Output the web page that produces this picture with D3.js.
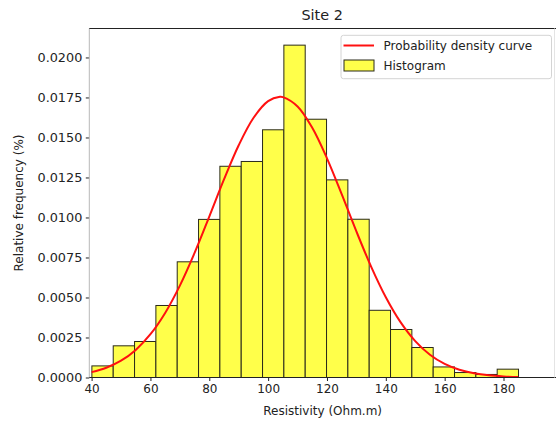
<!DOCTYPE html>
<html>
<head>
<meta charset="utf-8">
<script src="https://cdn.jsdelivr.net/npm/d3@7/dist/d3.min.js"></script>
<style>
  html, body { margin: 0; padding: 0; background: #fff; }
  svg { display: block; font-family: "DejaVu Sans", sans-serif; }
</style>
</head>
<body>
<svg id="chart" width="556" height="423"></svg>
<script>
// ---- data ----
const title = "Site 2";
const xLabel = "Resistivity (Ohm.m)";
const yLabel = "Relative frequency (%)";
const legendLabels = ["Probability density curve", "Histogram"];

const binEdges = [40.1, 47.35, 54.6, 61.85, 69.1, 76.35, 83.6, 90.85, 98.1, 105.35,
  112.6, 119.85, 127.1, 134.35, 141.6, 148.85, 156.1, 163.35, 170.6, 177.85, 185.1];
const binDensity = [0.000725, 0.00198, 0.00225, 0.0045, 0.00723, 0.00988, 0.0132, 0.0135,
  0.01548, 0.02077, 0.01614, 0.01235, 0.00989, 0.0042, 0.0030, 0.001875, 0.00066,
  0.00031, 0.00019, 0.00052];

const curveX = [40, 45, 50, 55, 60, 65, 70, 75, 80, 85, 90, 95, 100, 104, 105, 110, 115,
  120, 125, 130, 135, 140, 145, 150, 155, 160, 165, 170, 175, 180, 185];
const curveY = [0.000335, 0.000608, 0.001049, 0.001724, 0.002703, 0.004036, 0.005741,
  0.007784, 0.010056, 0.012375, 0.014514, 0.016219, 0.017271, 0.01754, 0.017523, 0.016940,
  0.015605, 0.013697, 0.011456, 0.009128, 0.006932, 0.005015, 0.003457, 0.002272,
  0.001421, 0.000848, 0.000482, 0.000261, 0.000135, 0.0000662, 0.000031];

const xTicks = [40, 60, 80, 100, 120, 140, 160, 180];
const yTicks = [0, 0.0025, 0.005, 0.0075, 0.01, 0.0125, 0.015, 0.0175, 0.02];

// ---- layout ----
const plotLeft = 89.3, plotRight = 555, plotTop = 28.5, plotBottom = 377.5;
const xDomain = [39.22, 197.5];
const yDomain = [0, 0.02181];

const svg = d3.select("#chart");
const x = d3.scaleLinear().domain(xDomain).range([plotLeft, plotRight]);
const y = d3.scaleLinear().domain(yDomain).range([plotBottom, plotTop]);

const fs = 12;

// bars
const bars = binDensity.map((d, i) => ({ x0: binEdges[i], x1: binEdges[i + 1], v: d }));
svg.append("g").selectAll("rect").data(bars).join("rect")
  .attr("x", d => x(d.x0))
  .attr("y", d => y(d.v))
  .attr("width", d => x(d.x1) - x(d.x0))
  .attr("height", d => y(0) - y(d.v))
  .attr("fill", "#ffff4a")
  .attr("stroke", "#2a2a1a")
  .attr("stroke-width", 1);

// curve
const pts = curveX.map((v, i) => [v, curveY[i]]);
svg.append("path")
  .datum(pts)
  .attr("fill", "none")
  .attr("stroke", "#ff1010")
  .attr("stroke-width", 2)
  .attr("d", d3.line().x(d => x(d[0])).y(d => y(d[1])).curve(d3.curveCatmullRom));

// axes
const xAxis = svg.append("g")
  .attr("transform", `translate(0,${plotBottom})`)
  .call(d3.axisBottom(x).tickValues(xTicks).tickSize(3.5).tickPadding(3.5).tickFormat(d3.format("d")));
const yAxis = svg.append("g")
  .attr("transform", `translate(${plotLeft},0)`)
  .call(d3.axisLeft(y).tickValues(yTicks).tickSize(3.5).tickPadding(3.5).tickFormat(d3.format(".4f")));
[xAxis, yAxis].forEach(g => {
  g.select(".domain").remove();
  g.selectAll("text").attr("font-family", "DejaVu Sans").attr("fill", "#222");
  g.selectAll("line").attr("stroke", "#222");
});
xAxis.selectAll("text").attr("font-size", fs);
yAxis.selectAll("text").attr("font-size", 12.8);

// spines
svg.append("line").attr("x1", plotLeft).attr("x2", plotLeft).attr("y1", plotTop).attr("y2", plotBottom)
  .attr("stroke", "#b8b8b8").attr("stroke-width", 1);
svg.append("line").attr("x1", plotLeft).attr("x2", plotRight + 2).attr("y1", plotBottom).attr("y2", plotBottom)
  .attr("stroke", "#222").attr("stroke-width", 1);
svg.append("line").attr("x1", plotLeft).attr("x2", plotRight + 2).attr("y1", plotTop).attr("y2", plotTop)
  .attr("stroke", "#222").attr("stroke-width", 1);
svg.append("line").attr("x1", plotRight - 0.5).attr("x2", plotRight - 0.5).attr("y1", plotTop).attr("y2", plotBottom)
  .attr("stroke", "#e4e4e4").attr("stroke-width", 1);

// title and labels
svg.append("text").attr("x", (plotLeft + plotRight) / 2).attr("y", 20)
  .attr("text-anchor", "middle").attr("font-size", 14.4).attr("fill", "#222").text(title);
svg.append("text").attr("x", (plotLeft + plotRight) / 2 + 0.5).attr("y", 415)
  .attr("text-anchor", "middle").attr("font-size", fs).attr("fill", "#222").text(xLabel);
svg.append("text").attr("transform", `translate(23,${(plotTop + plotBottom) / 2}) rotate(-90)`)
  .attr("text-anchor", "middle").attr("font-size", fs).attr("fill", "#222").text(yLabel);

// legend
const lg = svg.append("g");
lg.append("rect").attr("x", 341).attr("y", 35.3).attr("width", 210.5).attr("height", 43.4)
  .attr("rx", 2.5).attr("fill", "#fff").attr("fill-opacity", 0.85).attr("stroke", "#d4d4d4");
lg.append("line").attr("x1", 343.5).attr("x2", 374).attr("y1", 45.5).attr("y2", 45.5)
  .attr("stroke", "#ff1010").attr("stroke-width", 2);
lg.append("rect").attr("x", 344).attr("y", 60).attr("width", 30).attr("height", 11)
  .attr("fill", "#ffff4a").attr("stroke", "#2a2a1a");
lg.append("text").attr("x", 383.5).attr("y", 49.8).attr("font-size", fs).attr("fill", "#222").text(legendLabels[0]);
lg.append("text").attr("x", 383.5).attr("y", 70).attr("font-size", fs).attr("fill", "#222").text(legendLabels[1]);
</script>
</body>
</html>
